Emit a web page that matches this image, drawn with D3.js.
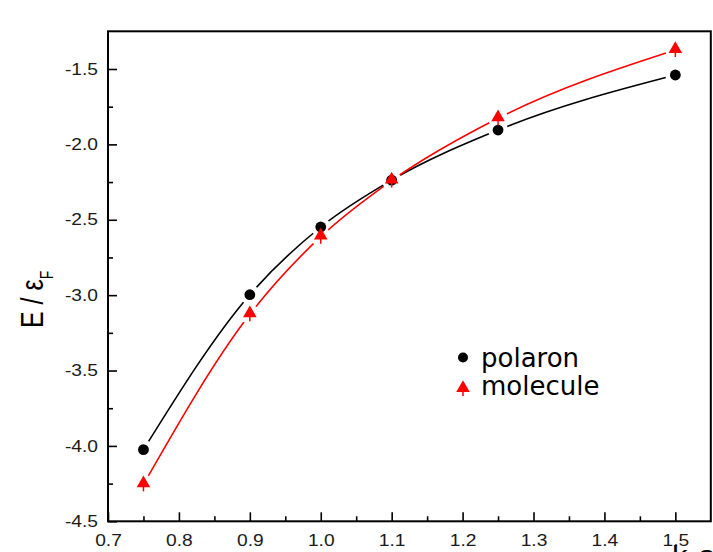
<!DOCTYPE html>
<head>
<meta charset="utf-8">
<style>
    body { margin: 0; background: #fff; }
    svg { display: block; }
    .domain { display: none; }
    .tick line { stroke: #000; stroke-width: 1.6px; }
</style>
</head>
<body>
<svg id="chart" width="713" height="552"></svg>
<script src="https://cdn.jsdelivr.net/npm/d3@7"></script>
<script>
    // k_F a values
    var kfa = [0.75, 0.9, 1.0, 1.1, 1.25, 1.5];
    var polaron = [-4.025, -2.997, -2.548, -2.237, -1.905, -1.54];
    var molecule = [-4.255, -3.127, -2.612, -2.24, -1.827, -1.374];

    var xMajor = [0.7, 0.8, 0.9, 1.0, 1.1, 1.2, 1.3, 1.4, 1.5];
    var xMinor = [0.75, 0.85, 0.95, 1.05, 1.15, 1.25, 1.35, 1.45];
    var yMajor = [-4.5, -4.0, -3.5, -3.0, -2.5, -2.0, -1.5];
    var yMinor = [-4.25, -3.75, -3.25, -2.75, -2.25, -1.75];

    var svg = d3.select("#chart");
    var pLeft = 108, pRight = 710.8, pTop = 31.3, pBottom = 521.3;
    var stretch = 1.2; // tick labels in the original look widened

    var x = d3.scaleLinear().domain([0.7, 1.55]).range([pLeft, pRight]);
    var y = d3.scaleLinear().domain([-4.5, -1.25]).range([pBottom, pTop]);

    var fmt = function (d) { return d.toFixed(1); };

    function styleLabels(sel) {
        sel.attr("font-family", "'Liberation Sans', Arial, sans-serif")
            .attr("font-size", 16)
            .attr("fill", "#1a1a1a")
            .attr("transform", "scale(" + stretch + ",1)");
    }

    // frame
    svg.append("rect")
        .attr("x", pLeft).attr("y", pTop)
        .attr("width", pRight - pLeft).attr("height", pBottom - pTop)
        .attr("fill", "none").attr("stroke", "#000").attr("stroke-width", 2);

    // x axis, ticks inward
    var gx = svg.append("g").attr("transform", "translate(0," + pBottom + ")");
    gx.call(d3.axisBottom(x).tickValues(xMajor).tickSize(-9).tickPadding(13).tickFormat(fmt));
    gx.selectAll(".tick text").call(styleLabels);
    svg.append("g").attr("transform", "translate(0," + pBottom + ")")
        .call(d3.axisBottom(x).tickValues(xMinor).tickSize(-5).tickFormat(""));

    // y axis
    var gy = svg.append("g").attr("transform", "translate(" + pLeft + ",0)");
    gy.call(d3.axisLeft(y).tickValues(yMajor).tickSize(-9).tickPadding(10).tickFormat(fmt));
    gy.selectAll(".tick text").call(styleLabels).attr("x", -10 / stretch);
    svg.append("g").attr("transform", "translate(" + pLeft + ",0)")
        .call(d3.axisLeft(y).tickValues(yMinor).tickSize(-5).tickFormat(""));

    // curves with gaps around own markers
    var series = [
        {name: "polaron", vals: polaron, color: "#000"},
        {name: "molecule", vals: molecule, color: "#ff0000"}
    ];
    var defs = svg.append("defs");
    var line = d3.line()
        .x(function (d) { return x(d[0]); })
        .y(function (d) { return y(d[1]); })
        .curve(d3.curveMonotoneX);

    series.forEach(function (s, i) {
        var pts = kfa.map(function (k, j) { return [k, s.vals[j]]; });
        var m = defs.append("mask").attr("id", "gap" + i)
            .attr("maskUnits", "userSpaceOnUse")
            .attr("x", 0).attr("y", 0).attr("width", 713).attr("height", 552);
        m.append("rect").attr("width", 713).attr("height", 552).attr("fill", "#fff");
        m.selectAll("circle").data(pts).enter().append("circle")
            .attr("cx", function (d) { return x(d[0]); })
            .attr("cy", function (d) { return y(d[1]); })
            .attr("r", 10).attr("fill", "#000");
        svg.append("path").datum(pts)
            .attr("d", line)
            .attr("fill", "none")
            .attr("stroke", s.color)
            .attr("stroke-width", 1.6)
            .attr("mask", "url(#gap" + i + ")");
    });

    // markers
    function triangle(g, cx, cy) {
        g.append("line")
            .attr("x1", cx).attr("x2", cx)
            .attr("y1", cy).attr("y2", cy + 7)
            .attr("stroke", "#ff0000").attr("stroke-width", 1.5);
        g.append("path")
            .attr("transform", "translate(" + cx + "," + (cy - 1) + ")")
            .attr("d", d3.symbol().type(d3.symbolTriangle).size(80)())
            .attr("fill", "#ff0000");
    }

    svg.append("g").selectAll("circle")
        .data(kfa).enter().append("circle")
        .attr("cx", function (d) { return x(d); })
        .attr("cy", function (d, i) { return y(polaron[i]); })
        .attr("r", 5.4)
        .attr("fill", "#000");

    var tg = svg.append("g");
    kfa.forEach(function (k, i) { triangle(tg, x(k), y(molecule[i])); });

    // legend
    var lg = svg.append("g").attr("font-family", "'DejaVu Sans', sans-serif").attr("font-size", 26);
    lg.append("circle").attr("cx", 463).attr("cy", 357.5).attr("r", 5).attr("fill", "#000");
    lg.append("text").attr("x", 481).attr("y", 366.5).text("polaron");
    triangle(lg, 463, 389);
    lg.append("text").attr("x", 481).attr("y", 394.5).text("molecule");

    // axis titles
    var yt = svg.append("text")
        .attr("transform", "translate(43,328) rotate(-90) scale(1,1.25)")
        .attr("font-family", "'Liberation Sans', Arial, sans-serif")
        .attr("font-size", 25);
    yt.append("tspan").text("E / ε");
    yt.append("tspan").attr("dy", 8).attr("font-size", 14).text("F");

    var xt = svg.append("text")
        .attr("transform", "translate(672,564) scale(1.25,1)")
        .attr("font-family", "'Liberation Sans', Arial, sans-serif")
        .attr("font-size", 25);
    xt.append("tspan").text("k");
    xt.append("tspan").attr("dy", 6).attr("font-size", 14).text("F");
    xt.append("tspan").attr("dy", -6).text("a");
</script>
</body>
